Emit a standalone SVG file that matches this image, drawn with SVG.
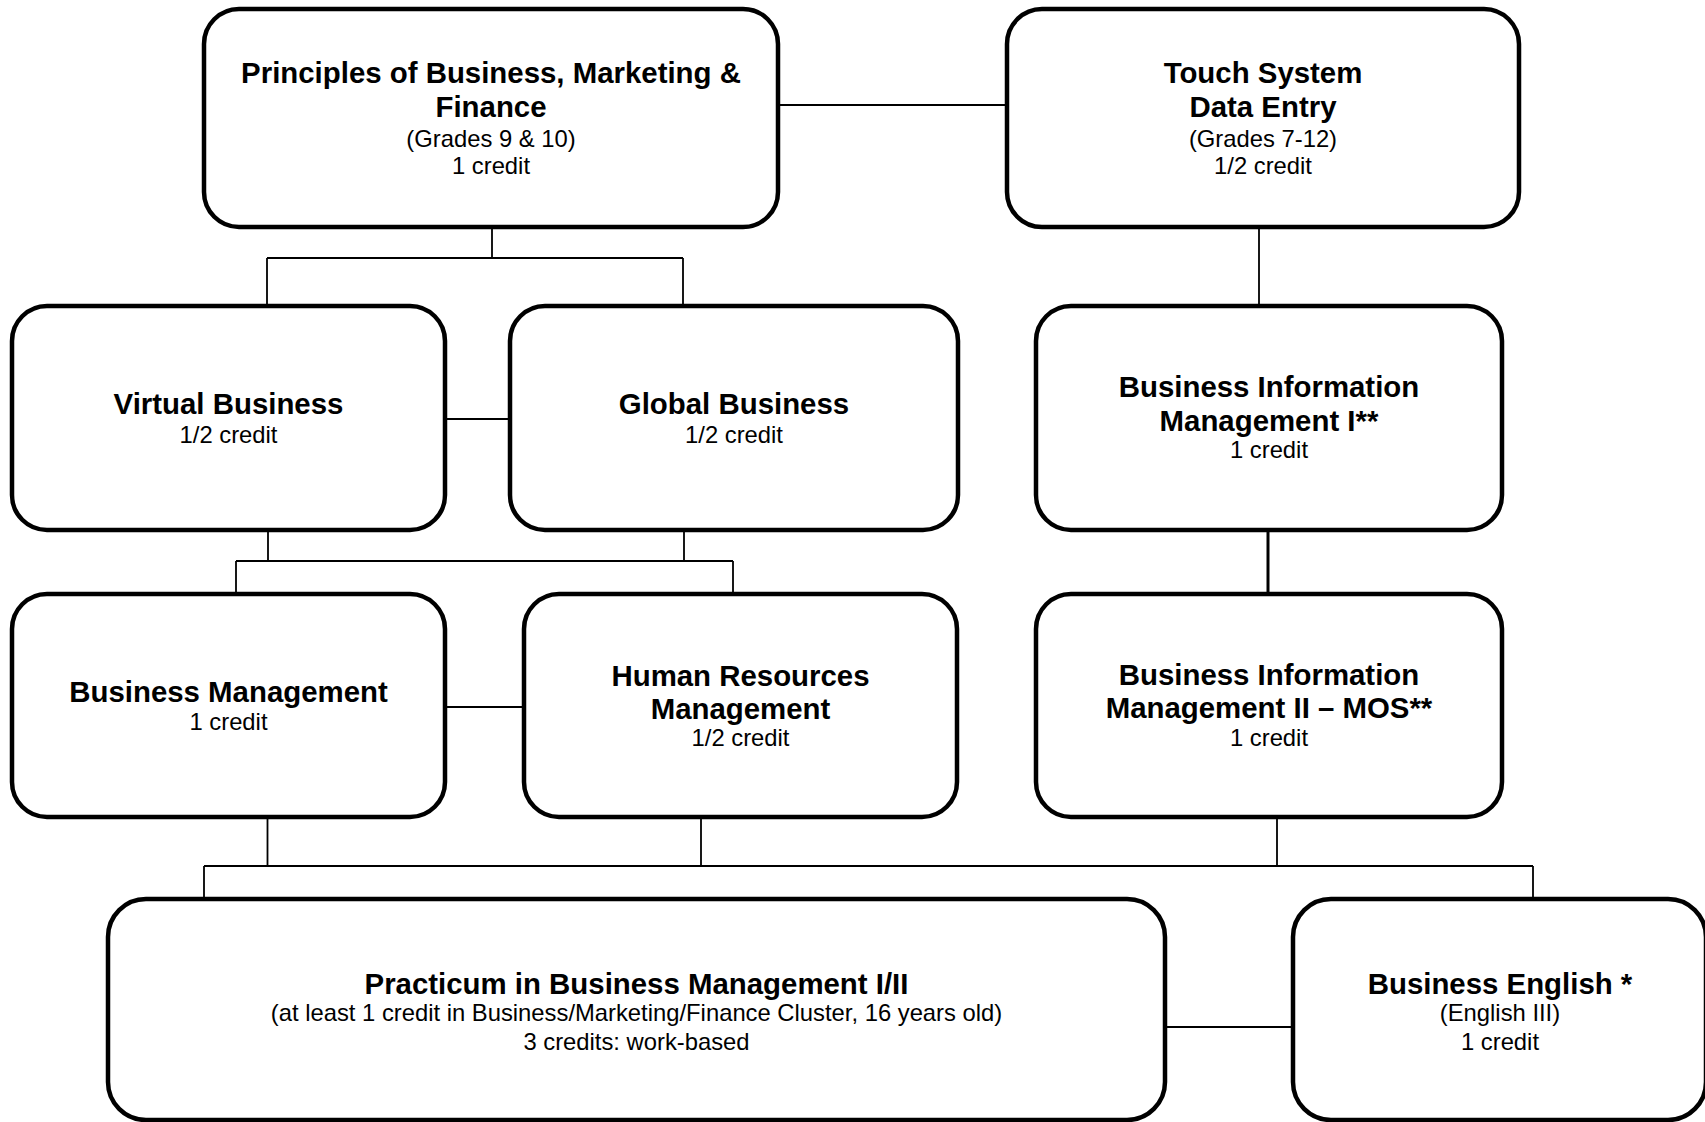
<svg xmlns="http://www.w3.org/2000/svg" width="1705" height="1122" viewBox="0 0 1705 1122">
<style>
.box{fill:#fff;stroke:#000;stroke-width:4.5}
.t{font-family:"Liberation Sans",Arial,sans-serif;text-anchor:middle;fill:#000}
.b{font-weight:bold;font-size:29.4px}
.r{font-size:23.8px}
.c{stroke:#000;stroke-width:1.8;fill:none}
</style>
<rect width="1705" height="1122" fill="#fff"/>
<g id="connectors">
<path class="c" d="M780 105H1008"/>
<path class="c" d="M492 228V258M267 258H683M267 258V306M683 258V306"/>
<path class="c" d="M445 419H510"/>
<path class="c" d="M1259 228V306"/>
<path class="c" d="M1268 530V594" style="stroke-width:3"/>
<path class="c" d="M268 530V561M684 530V561M236 561H733M236 561V594M733 561V594"/>
<path class="c" d="M445 707H524"/>
<path class="c" d="M267.5 817V866M701 817V866M1277 817V866M204 866H1533M204 866V899M1533 866V899"/>
<path class="c" d="M1165 1027H1293"/>
</g>
<g id="principles">
<rect class="box" x="204" y="9" width="574" height="218" rx="35"/>
<text class="t b" x="491" y="83">Principles of Business, Marketing &amp;</text>
<text class="t b" x="491" y="117">Finance</text>
<text class="t r" x="491" y="147">(Grades 9 &amp; 10)</text>
<text class="t r" x="491" y="174">1 credit</text>
</g>
<g id="touch">
<rect class="box" x="1007" y="9" width="512" height="218" rx="35"/>
<text class="t b" x="1263" y="83">Touch System</text>
<text class="t b" x="1263" y="117">Data Entry</text>
<text class="t r" x="1263" y="147">(Grades 7-12)</text>
<text class="t r" x="1263" y="174">1/2 credit</text>
</g>
<g id="virtual">
<rect class="box" x="12" y="306" width="433" height="224" rx="35"/>
<text class="t b" x="228.5" y="414">Virtual Business</text>
<text class="t r" x="228.5" y="443">1/2 credit</text>
</g>
<g id="global">
<rect class="box" x="510" y="306" width="448" height="224" rx="35"/>
<text class="t b" x="734" y="414">Global Business</text>
<text class="t r" x="734" y="443">1/2 credit</text>
</g>
<g id="bim1">
<rect class="box" x="1036" y="306" width="466" height="224" rx="35"/>
<text class="t b" x="1269" y="397">Business Information</text>
<text class="t b" x="1269" y="431">Management I**</text>
<text class="t r" x="1269" y="458">1 credit</text>
</g>
<g id="busmgmt">
<rect class="box" x="12" y="594" width="433" height="223" rx="35"/>
<text class="t b" x="228.5" y="702">Business Management</text>
<text class="t r" x="228.5" y="730">1 credit</text>
</g>
<g id="hr">
<rect class="box" x="524" y="594" width="433" height="223" rx="35"/>
<text class="t b" x="740.5" y="686">Human Resources</text>
<text class="t b" x="740.5" y="719">Management</text>
<text class="t r" x="740.5" y="746">1/2 credit</text>
</g>
<g id="bim2">
<rect class="box" x="1036" y="594" width="466" height="223" rx="35"/>
<text class="t b" x="1269" y="685">Business Information</text>
<text class="t b" x="1269" y="718">Management II – MOS**</text>
<text class="t r" x="1269" y="746">1 credit</text>
</g>
<g id="practicum">
<rect class="box" x="108" y="899" width="1057" height="221" rx="38"/>
<text class="t b" x="636.5" y="994">Practicum in Business Management I/II</text>
<text class="t r" x="636.5" y="1021">(at least 1 credit in Business/Marketing/Finance Cluster, 16 years old)</text>
<text class="t r" x="636.5" y="1050">3 credits: work-based</text>
</g>
<g id="english">
<rect class="box" x="1293" y="899" width="413" height="221" rx="38"/>
<text class="t b" x="1500" y="994">Business English *</text>
<text class="t r" x="1500" y="1021">(English III)</text>
<text class="t r" x="1500" y="1050">1 credit</text>
</g>
</svg>
